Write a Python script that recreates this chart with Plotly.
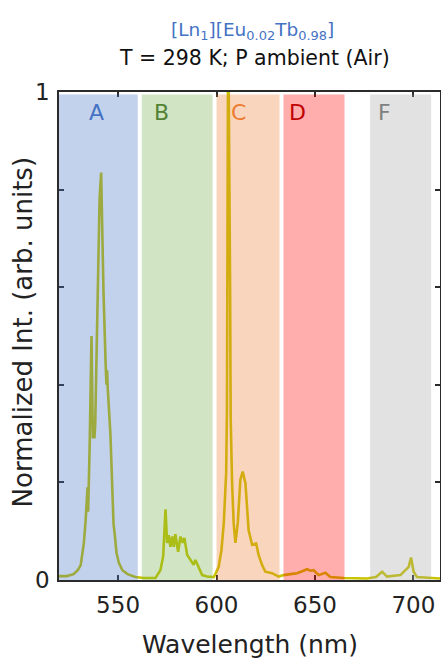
import plotly.graph_objects as go

# ---------------- data ----------------
wavelength = [
    520, 524, 527.4, 529.5, 531, 531.8, 532.6, 533.5, 534.2, 534.5, 534.8, 535.1, 535.6,
    536.5, 537.2, 537.6, 538.0, 538.4, 539.5, 540.6, 541.4, 541.9, 542.6, 543.7, 544.1,
    544.4, 544.8, 546.1, 546.9, 547.7, 548.4, 549.2, 550.4, 552.2, 554.8, 558.8, 563,
    569, 571.5, 572.9, 574.1, 574.9, 575.7, 576.6, 577.5, 578.3, 579.1, 580.5, 581.7,
    582.8, 583.7, 585.1, 586.8, 588.4, 589.3, 591.0, 592.7, 595.2, 598.6,
    599.4, 601.1, 602.5, 603.7, 604.9, 605.3, 605.8, 606.2, 606.9, 607.2, 607.9, 608.7,
    609.6, 610.8, 612.1, 613.3, 614.7, 616.3, 618.1, 620.1, 621.4, 623.1, 624.8, 628.2,
    631.6, 634.1, 637.5, 640.9, 643.5, 646.0, 647.7, 649.3, 651.9, 655.3, 657.8, 664.6,
    676.4, 681, 684.1, 686.6, 693.4, 697.6, 698.8, 700.1, 701.8, 713.5,
]
intensity = [
    0.008, 0.008, 0.012, 0.02, 0.03, 0.055, 0.075, 0.12, 0.16, 0.19, 0.14, 0.18, 0.28,
    0.50, 0.29, 0.33, 0.29, 0.32, 0.59, 0.78, 0.835, 0.70, 0.59, 0.44, 0.40,
    0.43, 0.39, 0.30, 0.205, 0.115, 0.09, 0.056, 0.035, 0.02, 0.012, 0.006, 0.004,
    0.004, 0.02, 0.048, 0.145, 0.076, 0.092, 0.068, 0.089, 0.068, 0.094, 0.058, 0.089,
    0.076, 0.086, 0.051, 0.041, 0.031, 0.041, 0.025, 0.01, 0.007, 0.006,
    0.012, 0.027, 0.061, 0.117, 0.22, 0.35, 1.0, 1.0, 0.6, 0.33, 0.2, 0.117,
    0.076, 0.117, 0.205, 0.222, 0.198, 0.102, 0.072, 0.075, 0.051, 0.031, 0.017, 0.014,
    0.007, 0.01, 0.012, 0.014, 0.018, 0.022, 0.019, 0.02, 0.01, 0.015, 0.006, 0.004,
    0.003, 0.006, 0.017, 0.007, 0.01, 0.027, 0.046, 0.017, 0.006, 0.003,
]

band_labels = ["A", "B", "C", "D", "F"]
band_start = [520, 562, 600, 634, 678]
band_end = [560, 598, 632, 665, 709]
band_label_x = [539, 572, 611, 641, 685.5]
band_fill = ["#4472c4", "#70ad47", "#ed7d31", "#ff0000", "#a5a5a5"]
band_text_color = ["#4472c4", "#548235", "#ed7d31", "#c00000", "#808080"]

x_ticks = [550, 600, 650, 700]
y_ticks_labelled = [0, 1]
y_tick_text = ["0", "1"]
y_ticks_minor = [0.2, 0.4, 0.6, 0.8]

title_1 = "[Ln<sub>1</sub>][Eu<sub>0.02</sub>Tb<sub>0.98</sub>]"
title_2 = "T = 298 K; P ambient (Air)"
x_title = "Wavelength (nm)"
y_title = "Normalized Int. (arb. units)"

FONT = "DejaVu Sans"
AX = "#2b2b2b"

fig = go.Figure()
fig.add_trace(go.Scatter(
    x=wavelength, y=intensity, mode="lines",
    line=dict(color="#c8c400", width=2.6),
    showlegend=False, hoverinfo="skip",
))

shapes = []
annotations = []
for lab, x0, x1, lx, fc, tc in zip(band_labels, band_start, band_end, band_label_x,
                                   band_fill, band_text_color):
    shapes.append(dict(type="rect", xref="x", yref="y", x0=x0, x1=x1, y0=0, y1=0.995,
                       fillcolor=fc, opacity=0.32, line=dict(width=0), layer="above"))
    annotations.append(dict(x=lx, y=0.957, xref="x", yref="y", text=lab, showarrow=False,
                            font=dict(family=FONT, size=22, color=tc),
                            xanchor="center", yanchor="middle"))

annotations += [
    dict(x=0.507, y=1, xref="paper", yref="paper", text=title_1, showarrow=False,
         font=dict(family=FONT, size=18.5, color="#4472c4"),
         xanchor="center", yanchor="middle", yshift=61),
    dict(x=0.512, y=1, xref="paper", yref="paper", text=title_2, showarrow=False,
         font=dict(family=FONT, size=20.5, color="#111111"),
         xanchor="center", yanchor="middle", yshift=34),
    dict(x=0.5, y=0, xref="paper", yref="paper", text=x_title, showarrow=False,
         font=dict(family=FONT, size=25, color="#222222"),
         xanchor="center", yanchor="top", yshift=-48),
    dict(x=-0.095, y=0.507, xref="paper", yref="paper", text=y_title, showarrow=False,
         textangle=-90, font=dict(family=FONT, size=26, color="#222222"),
         xanchor="center", yanchor="middle"),
]

fig.update_layout(
    width=441, height=659,
    margin=dict(l=59, r=1, t=92, b=79, autoexpand=False),
    paper_bgcolor="white", plot_bgcolor="white",
    shapes=shapes, annotations=annotations,
    xaxis=dict(range=[520, 713.5], tickvals=x_ticks, ticks="inside", ticklen=5,
               tickwidth=1.5, tickcolor=AX, showline=True, linecolor=AX, linewidth=1.5,
               mirror="ticks", showgrid=False, zeroline=False, automargin=False,
               ticklabelstandoff=4,
               tickfont=dict(family=FONT, size=23, color="#222222")),
    yaxis=dict(range=[0, 1], tickvals=y_ticks_labelled, ticktext=y_tick_text,
               ticks="inside", ticklen=5, tickwidth=1.5, tickcolor=AX,
               minor=dict(tickvals=y_ticks_minor, ticks="inside", ticklen=5,
                          tickwidth=1.5, tickcolor=AX, showgrid=False),
               showline=True, linecolor=AX,
               linewidth=1.5, mirror="ticks", showgrid=False, zeroline=False,
               automargin=False, ticklabelstandoff=3,
               tickfont=dict(family=FONT, size=23, color="#222222")),
)

fig.write_html(
    "out.html",
    config={"displayModeBar": False},
    post_script="document.body.style.margin='0';document.body.style.padding='0';"
                "document.body.style.overflow='hidden';",
)
